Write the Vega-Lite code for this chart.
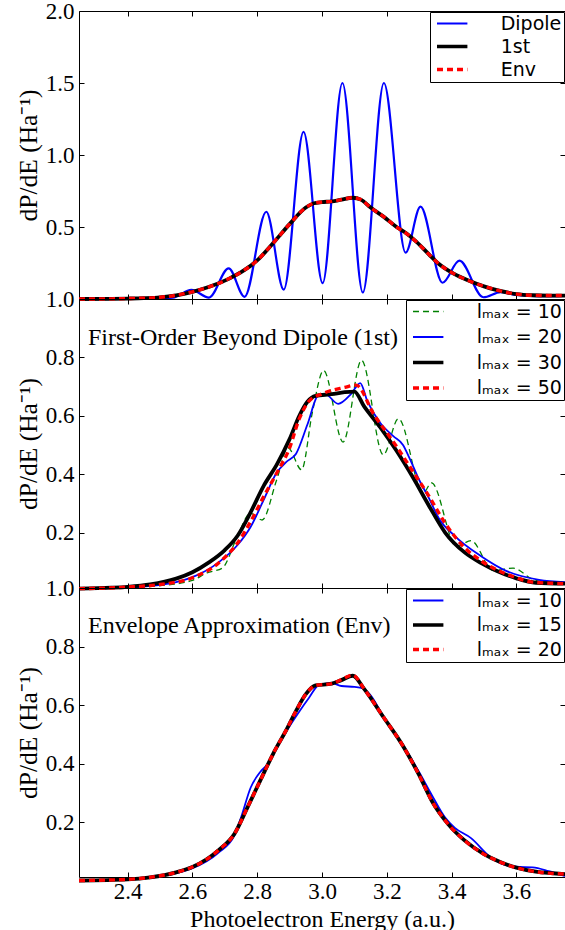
{
  "$schema": "https://vega.github.io/schema/vega-lite/v6.json",
  "background": "white",
  "padding": {"left": 16, "top": 0, "right": 0, "bottom": 0},
  "spacing": 0,
  "bounds": "flush",
  "config": {
    "view": {"stroke": null},
    "font": "Liberation Serif",
    "line": {"interpolate": "monotone", "clip": true},
    "axis": {
      "labelFont": "Liberation Serif", "labelFontSize": 23, "labelColor": "black",
      "titleFont": "Liberation Serif", "titleFontSize": 24, "titleFontWeight": "normal", "titleColor": "black",
      "domainColor": "black", "domainWidth": 1, "tickColor": "black", "tickWidth": 1, "tickSize": -5,
      "grid": false, "labelFlush": false, "labelOverlap": false, "labelBound": false, "format": ".1f"
    },
    "axisX": {"labelPadding": 8},
    "axisY": {"labelPadding": 10, "titleFontSize": 25.5},
    "legend": {
      "orient": "top-right", "offset": 1, "padding": 2, "strokeColor": "black", "fillColor": "white",
      "cornerRadius": 0, "labelFont": "DejaVu Sans", "labelFontSize": 19, "labelColor": "black",
      "symbolType": "M-1.6,0H1.6", "symbolSize": 361, "symbolOffset": 10.7, "labelOffset": 39
    },
    "title": {"font": "Liberation Serif", "fontSize": 24, "fontWeight": "normal", "color": "black", "anchor": "start", "frame": "group"}
  },
  "datasets": {
    "p1": [
      {"E":2.25,"dPdE":0.0,"series":"Dipole"},{"E":2.4,"dPdE":0.001,"series":"Dipole"},{"E":2.5,"dPdE":0.004,"series":"Dipole"},{"E":2.54,"dPdE":0.009,"series":"Dipole"},{"E":2.597,"dPdE":0.063,"series":"Dipole"},{"E":2.651,"dPdE":0.01,"series":"Dipole"},{"E":2.712,"dPdE":0.213,"series":"Dipole"},{"E":2.761,"dPdE":0.015,"series":"Dipole"},{"E":2.828,"dPdE":0.606,"series":"Dipole"},{"E":2.882,"dPdE":0.065,"series":"Dipole"},{"E":2.943,"dPdE":1.16,"series":"Dipole"},{"E":3.002,"dPdE":0.11,"series":"Dipole"},{"E":3.063,"dPdE":1.5,"series":"Dipole"},{"E":3.126,"dPdE":0.045,"series":"Dipole"},{"E":3.191,"dPdE":1.5,"series":"Dipole"},{"E":3.258,"dPdE":0.322,"series":"Dipole"},{"E":3.304,"dPdE":0.641,"series":"Dipole"},{"E":3.372,"dPdE":0.113,"series":"Dipole"},{"E":3.424,"dPdE":0.266,"series":"Dipole"},{"E":3.498,"dPdE":0.012,"series":"Dipole"},{"E":3.552,"dPdE":0.048,"series":"Dipole"},{"E":3.6,"dPdE":0.028,"series":"Dipole"},{"E":3.66,"dPdE":0.02,"series":"Dipole"},{"E":3.75,"dPdE":0.022,"series":"Dipole"},
      {"E":2.25,"dPdE":0.0,"series":"1st"},{"E":2.35,"dPdE":0.001,"series":"1st"},{"E":2.4,"dPdE":0.003,"series":"1st"},{"E":2.45,"dPdE":0.006,"series":"1st"},{"E":2.5,"dPdE":0.012,"series":"1st"},{"E":2.55,"dPdE":0.026,"series":"1st"},{"E":2.6,"dPdE":0.05,"series":"1st"},{"E":2.65,"dPdE":0.083,"series":"1st"},{"E":2.712,"dPdE":0.14,"series":"1st"},{"E":2.76,"dPdE":0.2,"series":"1st"},{"E":2.8,"dPdE":0.268,"series":"1st"},{"E":2.85,"dPdE":0.39,"series":"1st"},{"E":2.9,"dPdE":0.52,"series":"1st"},{"E":2.95,"dPdE":0.635,"series":"1st"},{"E":2.975,"dPdE":0.665,"series":"1st"},{"E":3.0,"dPdE":0.673,"series":"1st"},{"E":3.03,"dPdE":0.678,"series":"1st"},{"E":3.06,"dPdE":0.69,"series":"1st"},{"E":3.095,"dPdE":0.703,"series":"1st"},{"E":3.12,"dPdE":0.69,"series":"1st"},{"E":3.15,"dPdE":0.635,"series":"1st"},{"E":3.19,"dPdE":0.572,"series":"1st"},{"E":3.23,"dPdE":0.5,"series":"1st"},{"E":3.26,"dPdE":0.456,"series":"1st"},{"E":3.29,"dPdE":0.4,"series":"1st"},{"E":3.33,"dPdE":0.31,"series":"1st"},{"E":3.36,"dPdE":0.245,"series":"1st"},{"E":3.405,"dPdE":0.178,"series":"1st"},{"E":3.45,"dPdE":0.13,"series":"1st"},{"E":3.5,"dPdE":0.088,"series":"1st"},{"E":3.54,"dPdE":0.062,"series":"1st"},{"E":3.6,"dPdE":0.034,"series":"1st"},{"E":3.65,"dPdE":0.026,"series":"1st"},{"E":3.7,"dPdE":0.024,"series":"1st"},{"E":3.75,"dPdE":0.024,"series":"1st"},
      {"E":2.25,"dPdE":0.0,"series":"Env"},{"E":2.35,"dPdE":0.001,"series":"Env"},{"E":2.4,"dPdE":0.003,"series":"Env"},{"E":2.45,"dPdE":0.006,"series":"Env"},{"E":2.5,"dPdE":0.012,"series":"Env"},{"E":2.55,"dPdE":0.026,"series":"Env"},{"E":2.6,"dPdE":0.05,"series":"Env"},{"E":2.65,"dPdE":0.083,"series":"Env"},{"E":2.712,"dPdE":0.14,"series":"Env"},{"E":2.76,"dPdE":0.2,"series":"Env"},{"E":2.8,"dPdE":0.268,"series":"Env"},{"E":2.85,"dPdE":0.39,"series":"Env"},{"E":2.9,"dPdE":0.52,"series":"Env"},{"E":2.95,"dPdE":0.635,"series":"Env"},{"E":2.975,"dPdE":0.665,"series":"Env"},{"E":3.0,"dPdE":0.673,"series":"Env"},{"E":3.03,"dPdE":0.678,"series":"Env"},{"E":3.06,"dPdE":0.69,"series":"Env"},{"E":3.095,"dPdE":0.703,"series":"Env"},{"E":3.12,"dPdE":0.69,"series":"Env"},{"E":3.15,"dPdE":0.635,"series":"Env"},{"E":3.19,"dPdE":0.572,"series":"Env"},{"E":3.23,"dPdE":0.5,"series":"Env"},{"E":3.26,"dPdE":0.456,"series":"Env"},{"E":3.29,"dPdE":0.4,"series":"Env"},{"E":3.33,"dPdE":0.31,"series":"Env"},{"E":3.36,"dPdE":0.245,"series":"Env"},{"E":3.405,"dPdE":0.178,"series":"Env"},{"E":3.45,"dPdE":0.13,"series":"Env"},{"E":3.5,"dPdE":0.088,"series":"Env"},{"E":3.54,"dPdE":0.062,"series":"Env"},{"E":3.6,"dPdE":0.034,"series":"Env"},{"E":3.65,"dPdE":0.026,"series":"Env"},{"E":3.7,"dPdE":0.024,"series":"Env"},{"E":3.75,"dPdE":0.024,"series":"Env"}
    ],
    "p2": [
      {"E":2.25,"dPdE":0.008,"series":"lₘₐₓ = 10"},{"E":2.4,"dPdE":0.011,"series":"lₘₐₓ = 10"},{"E":2.5,"dPdE":0.018,"series":"lₘₐₓ = 10"},{"E":2.6,"dPdE":0.036,"series":"lₘₐₓ = 10"},{"E":2.645,"dPdE":0.062,"series":"lₘₐₓ = 10"},{"E":2.692,"dPdE":0.078,"series":"lₘₐₓ = 10"},{"E":2.74,"dPdE":0.19,"series":"lₘₐₓ = 10"},{"E":2.779,"dPdE":0.266,"series":"lₘₐₓ = 10"},{"E":2.815,"dPdE":0.243,"series":"lₘₐₓ = 10"},{"E":2.86,"dPdE":0.38,"series":"lₘₐₓ = 10"},{"E":2.895,"dPdE":0.49,"series":"lₘₐₓ = 10"},{"E":2.937,"dPdE":0.415,"series":"lₘₐₓ = 10"},{"E":2.97,"dPdE":0.61,"series":"lₘₐₓ = 10"},{"E":3.005,"dPdE":0.755,"series":"lₘₐₓ = 10"},{"E":3.065,"dPdE":0.51,"series":"lₘₐₓ = 10"},{"E":3.122,"dPdE":0.79,"series":"lₘₐₓ = 10"},{"E":3.189,"dPdE":0.466,"series":"lₘₐₓ = 10"},{"E":3.236,"dPdE":0.59,"series":"lₘₐₓ = 10"},{"E":3.312,"dPdE":0.335,"series":"lₘₐₓ = 10"},{"E":3.338,"dPdE":0.37,"series":"lₘₐₓ = 10"},{"E":3.415,"dPdE":0.152,"series":"lₘₐₓ = 10"},{"E":3.46,"dPdE":0.172,"series":"lₘₐₓ = 10"},{"E":3.528,"dPdE":0.07,"series":"lₘₐₓ = 10"},{"E":3.59,"dPdE":0.078,"series":"lₘₐₓ = 10"},{"E":3.65,"dPdE":0.04,"series":"lₘₐₓ = 10"},{"E":3.7,"dPdE":0.028,"series":"lₘₐₓ = 10"},{"E":3.75,"dPdE":0.025,"series":"lₘₐₓ = 10"},
      {"E":2.25,"dPdE":0.008,"series":"lₘₐₓ = 20"},{"E":2.4,"dPdE":0.011,"series":"lₘₐₓ = 20"},{"E":2.47,"dPdE":0.017,"series":"lₘₐₓ = 20"},{"E":2.55,"dPdE":0.03,"series":"lₘₐₓ = 20"},{"E":2.6,"dPdE":0.047,"series":"lₘₐₓ = 20"},{"E":2.68,"dPdE":0.097,"series":"lₘₐₓ = 20"},{"E":2.74,"dPdE":0.158,"series":"lₘₐₓ = 20"},{"E":2.78,"dPdE":0.22,"series":"lₘₐₓ = 20"},{"E":2.82,"dPdE":0.312,"series":"lₘₐₓ = 20"},{"E":2.86,"dPdE":0.405,"series":"lₘₐₓ = 20"},{"E":2.89,"dPdE":0.442,"series":"lₘₐₓ = 20"},{"E":2.92,"dPdE":0.47,"series":"lₘₐₓ = 20"},{"E":2.955,"dPdE":0.57,"series":"lₘₐₓ = 20"},{"E":2.99,"dPdE":0.672,"series":"lₘₐₓ = 20"},{"E":3.01,"dPdE":0.674,"series":"lₘₐₓ = 20"},{"E":3.05,"dPdE":0.641,"series":"lₘₐₓ = 20"},{"E":3.09,"dPdE":0.675,"series":"lₘₐₓ = 20"},{"E":3.118,"dPdE":0.712,"series":"lₘₐₓ = 20"},{"E":3.14,"dPdE":0.65,"series":"lₘₐₓ = 20"},{"E":3.18,"dPdE":0.575,"series":"lₘₐₓ = 20"},{"E":3.22,"dPdE":0.53,"series":"lₘₐₓ = 20"},{"E":3.25,"dPdE":0.5,"series":"lₘₐₓ = 20"},{"E":3.27,"dPdE":0.455,"series":"lₘₐₓ = 20"},{"E":3.3,"dPdE":0.38,"series":"lₘₐₓ = 20"},{"E":3.33,"dPdE":0.318,"series":"lₘₐₓ = 20"},{"E":3.36,"dPdE":0.25,"series":"lₘₐₓ = 20"},{"E":3.41,"dPdE":0.188,"series":"lₘₐₓ = 20"},{"E":3.49,"dPdE":0.12,"series":"lₘₐₓ = 20"},{"E":3.57,"dPdE":0.068,"series":"lₘₐₓ = 20"},{"E":3.67,"dPdE":0.038,"series":"lₘₐₓ = 20"},{"E":3.75,"dPdE":0.03,"series":"lₘₐₓ = 20"},
      {"E":2.25,"dPdE":0.008,"series":"lₘₐₓ = 30"},{"E":2.35,"dPdE":0.011,"series":"lₘₐₓ = 30"},{"E":2.4,"dPdE":0.014,"series":"lₘₐₓ = 30"},{"E":2.47,"dPdE":0.022,"series":"lₘₐₓ = 30"},{"E":2.55,"dPdE":0.042,"series":"lₘₐₓ = 30"},{"E":2.6,"dPdE":0.064,"series":"lₘₐₓ = 30"},{"E":2.65,"dPdE":0.097,"series":"lₘₐₓ = 30"},{"E":2.7,"dPdE":0.14,"series":"lₘₐₓ = 30"},{"E":2.74,"dPdE":0.19,"series":"lₘₐₓ = 30"},{"E":2.78,"dPdE":0.27,"series":"lₘₐₓ = 30"},{"E":2.82,"dPdE":0.36,"series":"lₘₐₓ = 30"},{"E":2.86,"dPdE":0.432,"series":"lₘₐₓ = 30"},{"E":2.9,"dPdE":0.52,"series":"lₘₐₓ = 30"},{"E":2.93,"dPdE":0.6,"series":"lₘₐₓ = 30"},{"E":2.955,"dPdE":0.648,"series":"lₘₐₓ = 30"},{"E":2.98,"dPdE":0.668,"series":"lₘₐₓ = 30"},{"E":3.03,"dPdE":0.674,"series":"lₘₐₓ = 30"},{"E":3.07,"dPdE":0.681,"series":"lₘₐₓ = 30"},{"E":3.1,"dPdE":0.683,"series":"lₘₐₓ = 30"},{"E":3.13,"dPdE":0.632,"series":"lₘₐₓ = 30"},{"E":3.18,"dPdE":0.56,"series":"lₘₐₓ = 30"},{"E":3.23,"dPdE":0.48,"series":"lₘₐₓ = 30"},{"E":3.28,"dPdE":0.39,"series":"lₘₐₓ = 30"},{"E":3.33,"dPdE":0.292,"series":"lₘₐₓ = 30"},{"E":3.38,"dPdE":0.2,"series":"lₘₐₓ = 30"},{"E":3.44,"dPdE":0.132,"series":"lₘₐₓ = 30"},{"E":3.49,"dPdE":0.096,"series":"lₘₐₓ = 30"},{"E":3.54,"dPdE":0.068,"series":"lₘₐₓ = 30"},{"E":3.6,"dPdE":0.043,"series":"lₘₐₓ = 30"},{"E":3.66,"dPdE":0.028,"series":"lₘₐₓ = 30"},{"E":3.75,"dPdE":0.025,"series":"lₘₐₓ = 30"},
      {"E":2.25,"dPdE":0.008,"series":"lₘₐₓ = 50"},{"E":2.4,"dPdE":0.013,"series":"lₘₐₓ = 50"},{"E":2.5,"dPdE":0.022,"series":"lₘₐₓ = 50"},{"E":2.6,"dPdE":0.045,"series":"lₘₐₓ = 50"},{"E":2.68,"dPdE":0.095,"series":"lₘₐₓ = 50"},{"E":2.74,"dPdE":0.165,"series":"lₘₐₓ = 50"},{"E":2.78,"dPdE":0.238,"series":"lₘₐₓ = 50"},{"E":2.82,"dPdE":0.323,"series":"lₘₐₓ = 50"},{"E":2.86,"dPdE":0.403,"series":"lₘₐₓ = 50"},{"E":2.9,"dPdE":0.49,"series":"lₘₐₓ = 50"},{"E":2.93,"dPdE":0.59,"series":"lₘₐₓ = 50"},{"E":2.96,"dPdE":0.65,"series":"lₘₐₓ = 50"},{"E":3.0,"dPdE":0.675,"series":"lₘₐₓ = 50"},{"E":3.07,"dPdE":0.697,"series":"lₘₐₓ = 50"},{"E":3.105,"dPdE":0.705,"series":"lₘₐₓ = 50"},{"E":3.16,"dPdE":0.605,"series":"lₘₐₓ = 50"},{"E":3.23,"dPdE":0.495,"series":"lₘₐₓ = 50"},{"E":3.28,"dPdE":0.41,"series":"lₘₐₓ = 50"},{"E":3.33,"dPdE":0.325,"series":"lₘₐₓ = 50"},{"E":3.38,"dPdE":0.232,"series":"lₘₐₓ = 50"},{"E":3.44,"dPdE":0.148,"series":"lₘₐₓ = 50"},{"E":3.49,"dPdE":0.104,"series":"lₘₐₓ = 50"},{"E":3.54,"dPdE":0.072,"series":"lₘₐₓ = 50"},{"E":3.6,"dPdE":0.045,"series":"lₘₐₓ = 50"},{"E":3.65,"dPdE":0.03,"series":"lₘₐₓ = 50"},{"E":3.75,"dPdE":0.025,"series":"lₘₐₓ = 50"}
    ],
    "p3": [
      {"E":2.25,"dPdE":0.0,"series":"lₘₐₓ = 10"},{"E":2.4,"dPdE":0.003,"series":"lₘₐₓ = 10"},{"E":2.47,"dPdE":0.009,"series":"lₘₐₓ = 10"},{"E":2.55,"dPdE":0.025,"series":"lₘₐₓ = 10"},{"E":2.6,"dPdE":0.042,"series":"lₘₐₓ = 10"},{"E":2.68,"dPdE":0.095,"series":"lₘₐₓ = 10"},{"E":2.73,"dPdE":0.155,"series":"lₘₐₓ = 10"},{"E":2.75,"dPdE":0.215,"series":"lₘₐₓ = 10"},{"E":2.78,"dPdE":0.318,"series":"lₘₐₓ = 10"},{"E":2.81,"dPdE":0.372,"series":"lₘₐₓ = 10"},{"E":2.83,"dPdE":0.395,"series":"lₘₐₓ = 10"},{"E":2.85,"dPdE":0.432,"series":"lₘₐₓ = 10"},{"E":2.89,"dPdE":0.51,"series":"lₘₐₓ = 10"},{"E":2.93,"dPdE":0.578,"series":"lₘₐₓ = 10"},{"E":2.96,"dPdE":0.625,"series":"lₘₐₓ = 10"},{"E":2.99,"dPdE":0.668,"series":"lₘₐₓ = 10"},{"E":3.03,"dPdE":0.675,"series":"lₘₐₓ = 10"},{"E":3.06,"dPdE":0.665,"series":"lₘₐₓ = 10"},{"E":3.1,"dPdE":0.662,"series":"lₘₐₓ = 10"},{"E":3.125,"dPdE":0.658,"series":"lₘₐₓ = 10"},{"E":3.15,"dPdE":0.633,"series":"lₘₐₓ = 10"},{"E":3.19,"dPdE":0.56,"series":"lₘₐₓ = 10"},{"E":3.25,"dPdE":0.463,"series":"lₘₐₓ = 10"},{"E":3.3,"dPdE":0.37,"series":"lₘₐₓ = 10"},{"E":3.34,"dPdE":0.29,"series":"lₘₐₓ = 10"},{"E":3.38,"dPdE":0.215,"series":"lₘₐₓ = 10"},{"E":3.41,"dPdE":0.18,"series":"lₘₐₓ = 10"},{"E":3.46,"dPdE":0.145,"series":"lₘₐₓ = 10"},{"E":3.52,"dPdE":0.08,"series":"lₘₐₓ = 10"},{"E":3.56,"dPdE":0.055,"series":"lₘₐₓ = 10"},{"E":3.6,"dPdE":0.047,"series":"lₘₐₓ = 10"},{"E":3.65,"dPdE":0.045,"series":"lₘₐₓ = 10"},{"E":3.7,"dPdE":0.032,"series":"lₘₐₓ = 10"},{"E":3.75,"dPdE":0.015,"series":"lₘₐₓ = 10"},
      {"E":2.25,"dPdE":0.0,"series":"lₘₐₓ = 15"},{"E":2.4,"dPdE":0.004,"series":"lₘₐₓ = 15"},{"E":2.47,"dPdE":0.011,"series":"lₘₐₓ = 15"},{"E":2.55,"dPdE":0.028,"series":"lₘₐₓ = 15"},{"E":2.6,"dPdE":0.046,"series":"lₘₐₓ = 15"},{"E":2.68,"dPdE":0.103,"series":"lₘₐₓ = 15"},{"E":2.73,"dPdE":0.16,"series":"lₘₐₓ = 15"},{"E":2.77,"dPdE":0.25,"series":"lₘₐₓ = 15"},{"E":2.81,"dPdE":0.343,"series":"lₘₐₓ = 15"},{"E":2.85,"dPdE":0.435,"series":"lₘₐₓ = 15"},{"E":2.89,"dPdE":0.515,"series":"lₘₐₓ = 15"},{"E":2.92,"dPdE":0.58,"series":"lₘₐₓ = 15"},{"E":2.95,"dPdE":0.637,"series":"lₘₐₓ = 15"},{"E":2.98,"dPdE":0.667,"series":"lₘₐₓ = 15"},{"E":3.03,"dPdE":0.673,"series":"lₘₐₓ = 15"},{"E":3.06,"dPdE":0.685,"series":"lₘₐₓ = 15"},{"E":3.095,"dPdE":0.7,"series":"lₘₐₓ = 15"},{"E":3.13,"dPdE":0.655,"series":"lₘₐₓ = 15"},{"E":3.19,"dPdE":0.558,"series":"lₘₐₓ = 15"},{"E":3.25,"dPdE":0.46,"series":"lₘₐₓ = 15"},{"E":3.3,"dPdE":0.36,"series":"lₘₐₓ = 15"},{"E":3.34,"dPdE":0.27,"series":"lₘₐₓ = 15"},{"E":3.39,"dPdE":0.192,"series":"lₘₐₓ = 15"},{"E":3.44,"dPdE":0.137,"series":"lₘₐₓ = 15"},{"E":3.5,"dPdE":0.09,"series":"lₘₐₓ = 15"},{"E":3.55,"dPdE":0.063,"series":"lₘₐₓ = 15"},{"E":3.6,"dPdE":0.044,"series":"lₘₐₓ = 15"},{"E":3.66,"dPdE":0.03,"series":"lₘₐₓ = 15"},{"E":3.75,"dPdE":0.022,"series":"lₘₐₓ = 15"},
      {"E":2.25,"dPdE":0.0,"series":"lₘₐₓ = 20"},{"E":2.4,"dPdE":0.004,"series":"lₘₐₓ = 20"},{"E":2.47,"dPdE":0.011,"series":"lₘₐₓ = 20"},{"E":2.55,"dPdE":0.028,"series":"lₘₐₓ = 20"},{"E":2.6,"dPdE":0.046,"series":"lₘₐₓ = 20"},{"E":2.68,"dPdE":0.103,"series":"lₘₐₓ = 20"},{"E":2.73,"dPdE":0.16,"series":"lₘₐₓ = 20"},{"E":2.77,"dPdE":0.25,"series":"lₘₐₓ = 20"},{"E":2.81,"dPdE":0.343,"series":"lₘₐₓ = 20"},{"E":2.85,"dPdE":0.435,"series":"lₘₐₓ = 20"},{"E":2.89,"dPdE":0.515,"series":"lₘₐₓ = 20"},{"E":2.92,"dPdE":0.58,"series":"lₘₐₓ = 20"},{"E":2.95,"dPdE":0.637,"series":"lₘₐₓ = 20"},{"E":2.98,"dPdE":0.667,"series":"lₘₐₓ = 20"},{"E":3.03,"dPdE":0.673,"series":"lₘₐₓ = 20"},{"E":3.06,"dPdE":0.687,"series":"lₘₐₓ = 20"},{"E":3.095,"dPdE":0.702,"series":"lₘₐₓ = 20"},{"E":3.13,"dPdE":0.655,"series":"lₘₐₓ = 20"},{"E":3.19,"dPdE":0.558,"series":"lₘₐₓ = 20"},{"E":3.25,"dPdE":0.46,"series":"lₘₐₓ = 20"},{"E":3.3,"dPdE":0.36,"series":"lₘₐₓ = 20"},{"E":3.34,"dPdE":0.27,"series":"lₘₐₓ = 20"},{"E":3.39,"dPdE":0.192,"series":"lₘₐₓ = 20"},{"E":3.44,"dPdE":0.137,"series":"lₘₐₓ = 20"},{"E":3.5,"dPdE":0.09,"series":"lₘₐₓ = 20"},{"E":3.55,"dPdE":0.063,"series":"lₘₐₓ = 20"},{"E":3.6,"dPdE":0.044,"series":"lₘₐₓ = 20"},{"E":3.66,"dPdE":0.03,"series":"lₘₐₓ = 20"},{"E":3.75,"dPdE":0.022,"series":"lₘₐₓ = 20"}
    ]
  },
  "resolve": {"scale": {"color": "independent", "strokeDash": "independent", "y": "independent"}},
  "vconcat": [
    {
      "width": 486, "height": 288,
      "data": {"name": "p1"},
      "layer": [
        {"transform": [{"filter": "datum.series === 'Dipole'"}],
         "mark": {"type": "line", "color": "#0000ff", "strokeWidth": 2.2},
         "encoding": {
           "x": {"field": "E", "type": "quantitative", "scale": {"domain": [2.25, 3.75], "nice": false, "zero": false}, "axis": {"orient": "bottom", "values": [2.4, 2.6, 2.8, 3.0, 3.2, 3.4, 3.6], "labels": false, "title": null}},
           "y": {"field": "dPdE", "type": "quantitative", "scale": {"domain": [0, 2], "nice": false, "zero": false}, "axis": {"orient": "left", "values": [0.5, 1.0, 1.5, 2.0], "title": "dP/dE (Ha⁻¹)"}}
         }},
        {"transform": [{"filter": "datum.series === '1st'"}],
         "mark": {"type": "line", "color": "black", "strokeWidth": 3.8},
         "encoding": {"x": {"field": "E", "type": "quantitative", "axis": null}, "y": {"field": "dPdE", "type": "quantitative", "axis": null}}},
        {"transform": [{"filter": "datum.series === 'Env'"}],
         "mark": {"type": "line", "color": "#ff0000", "strokeWidth": 3.4, "strokeDash": [6, 4]},
         "encoding": {"x": {"field": "E", "type": "quantitative", "axis": null}, "y": {"field": "dPdE", "type": "quantitative", "axis": null}}},
        {"transform": [{"filter": "false"}],
         "mark": {"type": "line"},
         "encoding": {
           "x": {"field": "E", "type": "quantitative", "axis": {"orient": "top", "values": [2.4, 2.6, 2.8, 3.0, 3.2, 3.4, 3.6], "labels": false, "title": null}},
           "y": {"field": "dPdE", "type": "quantitative", "axis": {"orient": "right", "values": [0.5, 1.0, 1.5, 2.0], "labels": false, "title": null}},
           "color": {"field": "series", "type": "nominal", "scale": {"domain": ["Dipole", "1st", "Env"], "range": ["#0000ff", "black", "#ff0000"]},
             "legend": {"title": null, "rowPadding": 3, "symbolStrokeWidth": {"expr": "datum.value === 'Dipole' ? 2.2 : 3.6"}}},
           "strokeDash": {"field": "series", "type": "nominal", "scale": {"domain": ["Dipole", "1st", "Env"], "range": [[1, 0], [1, 0], [6, 4]]},
             "legend": {"title": null, "rowPadding": 3, "symbolStrokeWidth": {"expr": "datum.value === 'Dipole' ? 2.2 : 3.6"}}}
         }}
      ]
    },
    {
      "width": 486, "height": 289,
      "data": {"name": "p2"},
      "title": {"text": "First-Order Beyond Dipole (1st)", "offset": -81, "baseline": "alphabetic", "dx": 9},
      "layer": [
        {"transform": [{"filter": "datum.series === 'lₘₐₓ = 10'"}],
         "mark": {"type": "line", "color": "#008000", "strokeWidth": 1.3, "strokeDash": [6, 4]},
         "encoding": {
           "x": {"field": "E", "type": "quantitative", "scale": {"domain": [2.25, 3.75], "nice": false, "zero": false}, "axis": {"orient": "bottom", "values": [2.4, 2.6, 2.8, 3.0, 3.2, 3.4, 3.6], "labels": false, "title": null}},
           "y": {"field": "dPdE", "type": "quantitative", "scale": {"domain": [0.01, 1.0], "nice": false, "zero": false}, "axis": {"orient": "left", "values": [0.2, 0.4, 0.6, 0.8, 1.0], "title": "dP/dE (Ha⁻¹)"}}
         }},
        {"transform": [{"filter": "datum.series === 'lₘₐₓ = 20'"}],
         "mark": {"type": "line", "color": "#0000ff", "strokeWidth": 1.8},
         "encoding": {"x": {"field": "E", "type": "quantitative", "axis": null}, "y": {"field": "dPdE", "type": "quantitative", "axis": null}}},
        {"transform": [{"filter": "datum.series === 'lₘₐₓ = 30'"}],
         "mark": {"type": "line", "color": "black", "strokeWidth": 3.8},
         "encoding": {"x": {"field": "E", "type": "quantitative", "axis": null}, "y": {"field": "dPdE", "type": "quantitative", "axis": null}}},
        {"transform": [{"filter": "datum.series === 'lₘₐₓ = 50'"}],
         "mark": {"type": "line", "color": "#ff0000", "strokeWidth": 3.4, "strokeDash": [6, 4]},
         "encoding": {"x": {"field": "E", "type": "quantitative", "axis": null}, "y": {"field": "dPdE", "type": "quantitative", "axis": null}}},
        {"transform": [{"filter": "false"}],
         "mark": {"type": "line"},
         "encoding": {
           "x": {"field": "E", "type": "quantitative", "axis": {"orient": "top", "values": [2.4, 2.6, 2.8, 3.0, 3.2, 3.4, 3.6], "labels": false, "title": null}},
           "y": {"field": "dPdE", "type": "quantitative", "axis": {"orient": "right", "values": [0.2, 0.4, 0.6, 0.8, 1.0], "labels": false, "title": null}},
           "color": {"field": "series", "type": "nominal", "scale": {"domain": ["lₘₐₓ = 10", "lₘₐₓ = 20", "lₘₐₓ = 30", "lₘₐₓ = 50"], "range": ["#008000", "#0000ff", "black", "#ff0000"]},
             "legend": {"title": null, "rowPadding": 5.5, "symbolStrokeWidth": {"expr": "datum.index === 0 ? 1.3 : datum.index === 1 ? 1.8 : 3.6"}}},
           "strokeDash": {"field": "series", "type": "nominal", "scale": {"domain": ["lₘₐₓ = 10", "lₘₐₓ = 20", "lₘₐₓ = 30", "lₘₐₓ = 50"], "range": [[6, 4], [1, 0], [1, 0], [6, 4]]},
             "legend": {"title": null, "rowPadding": 5.5, "symbolStrokeWidth": {"expr": "datum.index === 0 ? 1.3 : datum.index === 1 ? 1.8 : 3.6"}}}
         }}
      ]
    },
    {
      "width": 486, "height": 289,
      "data": {"name": "p3"},
      "title": {"text": "Envelope Approximation (Env)", "offset": -80, "baseline": "alphabetic", "dx": 9},
      "layer": [
        {"transform": [{"filter": "datum.series === 'lₘₐₓ = 10'"}],
         "mark": {"type": "line", "color": "#0000ff", "strokeWidth": 1.8},
         "encoding": {
           "x": {"field": "E", "type": "quantitative", "scale": {"domain": [2.25, 3.75], "nice": false, "zero": false}, "axis": {"orient": "bottom", "values": [2.4, 2.6, 2.8, 3.0, 3.2, 3.4, 3.6], "title": "Photoelectron Energy (a.u.)"}},
           "y": {"field": "dPdE", "type": "quantitative", "scale": {"domain": [0.012, 1.0], "nice": false, "zero": false}, "axis": {"orient": "left", "values": [0.2, 0.4, 0.6, 0.8, 1.0], "title": "dP/dE (Ha⁻¹)"}}
         }},
        {"transform": [{"filter": "datum.series === 'lₘₐₓ = 15'"}],
         "mark": {"type": "line", "color": "black", "strokeWidth": 3.8},
         "encoding": {"x": {"field": "E", "type": "quantitative", "axis": null}, "y": {"field": "dPdE", "type": "quantitative", "axis": null}}},
        {"transform": [{"filter": "datum.series === 'lₘₐₓ = 20'"}],
         "mark": {"type": "line", "color": "#ff0000", "strokeWidth": 3.4, "strokeDash": [6, 4]},
         "encoding": {"x": {"field": "E", "type": "quantitative", "axis": null}, "y": {"field": "dPdE", "type": "quantitative", "axis": null}}},
        {"transform": [{"filter": "false"}],
         "mark": {"type": "line"},
         "encoding": {
           "x": {"field": "E", "type": "quantitative", "axis": {"orient": "top", "values": [2.4, 2.6, 2.8, 3.0, 3.2, 3.4, 3.6], "labels": false, "title": null}},
           "y": {"field": "dPdE", "type": "quantitative", "axis": {"orient": "right", "values": [0.2, 0.4, 0.6, 0.8, 1.0], "labels": false, "title": null}},
           "color": {"field": "series", "type": "nominal", "scale": {"domain": ["lₘₐₓ = 10", "lₘₐₓ = 15", "lₘₐₓ = 20"], "range": ["#0000ff", "black", "#ff0000"]},
             "legend": {"title": null, "rowPadding": 4.5, "symbolStrokeWidth": {"expr": "datum.index === 0 ? 1.8 : 3.6"}}},
           "strokeDash": {"field": "series", "type": "nominal", "scale": {"domain": ["lₘₐₓ = 10", "lₘₐₓ = 15", "lₘₐₓ = 20"], "range": [[1, 0], [1, 0], [6, 4]]},
             "legend": {"title": null, "rowPadding": 4.5, "symbolStrokeWidth": {"expr": "datum.index === 0 ? 1.8 : 3.6"}}}
         }}
      ]
    }
  ]
}
